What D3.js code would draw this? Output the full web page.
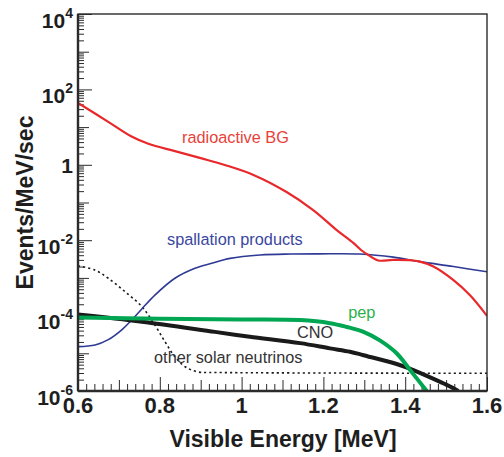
<!DOCTYPE html>
<html>
<head>
<meta charset="utf-8">
<script src="https://cdn.jsdelivr.net/npm/d3@7"></script>
<style>
  body { margin: 0; background: #fff; }
  svg { display: block; }
</style>
</head>
<body>
<svg id="chart" width="504" height="457"></svg>
<script>
// Spectrum components: visible energy (MeV) and rate (events/MeV/sec)
const bgEnergy = [0.6, 0.674, 0.731, 0.772, 0.837, 0.9, 0.959, 1.029, 1.11, 1.175, 1.2325, 1.273, 1.292, 1.309, 1.334, 1.37, 1.41, 1.436, 1.469, 1.518, 1.558, 1.6];
const bgRate   = [44, 13.8, 5.6, 3.6, 2.3, 1.5, 0.99, 0.54, 0.19, 0.063, 0.0186, 0.0085, 0.0055, 0.0041, 0.0029, 0.0030, 0.00295, 0.0027, 0.0020, 0.00087, 0.00035, 0.000098];

const spallEnergy = [0.6, 0.642, 0.674, 0.707, 0.731, 0.756, 0.788, 0.837, 0.886, 0.927, 0.972, 1.045, 1.12, 1.19, 1.289, 1.371, 1.436, 1.518, 1.6];
const spallRate   = [1.5e-5, 1.66e-5, 2.3e-5, 4.2e-5, 7.6e-5, 1.5e-4, 3.5e-4, 9.8e-4, 1.8e-3, 2.45e-3, 3.3e-3, 4.05e-3, 4.3e-3, 4.35e-3, 4.3e-3, 3.55e-3, 2.7e-3, 2.0e-3, 1.45e-3];

const pepEnergy = [0.6, 0.8, 1.0, 1.143, 1.216, 1.257, 1.298, 1.338, 1.379, 1.412, 1.4526];
const pepRate   = [8.9e-5, 8.3e-5, 7.9e-5, 7.6e-5, 6.3e-5, 5.0e-5, 3.7e-5, 2.2e-5, 1.0e-5, 3.6e-6, 1.0e-6];

const cnoEnergy = [0.6, 0.756, 0.935, 1.02, 1.143, 1.216, 1.265, 1.298, 1.379, 1.42, 1.461, 1.5015, 1.53];
const cnoRate   = [1.07e-4, 6.9e-5, 3.7e-5, 2.75e-5, 1.86e-5, 1.35e-5, 1.1e-5, 8.9e-6, 5.2e-6, 3.6e-6, 2.3e-6, 1.45e-6, 1.0e-6];

const otherEnergy = [0.6, 0.642, 0.674, 0.715, 0.756, 0.788, 0.813, 0.837, 0.862, 0.894, 0.935, 1.6];
const otherRate   = [2.1e-3, 1.6e-3, 9.8e-4, 4.3e-4, 1.74e-4, 5.6e-5, 2.0e-5, 8.1e-6, 4.4e-6, 3.2e-6, 3.1e-6, 2.95e-6];

// Axis ticks and labels
const xTickValues = [0.6, 0.8, 1.0, 1.2, 1.4, 1.6];
const xTickLabels = ["0.6", "0.8", "1", "1.2", "1.4", "1.6"];
const yTickValues = [1e4, 1e2, 1, 1e-2, 1e-4, 1e-6];
const yTickBases  = ["10", "10", "1", "10", "10", "10"];
const yTickExps   = ["4", "2", "", "-2", "-4", "-6"];

const plot = { left: 78, right: 487, top: 14, bottom: 391 };
const svg = d3.select("#chart");

const x = d3.scaleLinear().domain([0.6, 1.6]).range([plot.left, plot.right]);
const y = d3.scaleLog().domain([1e-6, 1e4]).range([plot.bottom, plot.top]);

svg.append("defs").append("clipPath").attr("id", "plotClip")
  .append("rect")
  .attr("x", plot.left).attr("y", plot.top)
  .attr("width", plot.right - plot.left).attr("height", plot.bottom - plot.top);

const axisColor = "#2b2b2b";
const labelFont = "'Liberation Sans', Arial, Helvetica, sans-serif";

// ---- ticks on the left (log) axis ----
const minorY = [];
for (let e = -6; e < 4; e++) {
  for (let m = 2; m <= 9; m++) minorY.push(m * Math.pow(10, e));
}
const oddDecades = [1e3, 1e1, 1e-1, 1e-3, 1e-5];

function drawYTicks(values, len) {
  svg.append("g")
    .attr("transform", `translate(${plot.left},0)`)
    .call(d3.axisLeft(y).tickValues(values).tickSize(-len).tickFormat(""))
    .call(g => g.select(".domain").remove())
    .call(g => g.selectAll("line").attr("stroke", axisColor).attr("stroke-width", 1));
}
drawYTicks(minorY, 6);
drawYTicks(oddDecades, 11);
drawYTicks(yTickValues, 14);

// ---- ticks on the bottom axis ----
const minorX = d3.range(0, 51).map(i => 0.6 + i * 0.02).filter(v => Math.abs((v * 10) % 1) > 0.01 && Math.abs((v * 10) % 1) < 0.99);
const halfX = [0.7, 0.9, 1.1, 1.3, 1.5];
function drawXTicks(values, len) {
  svg.append("g")
    .attr("transform", `translate(0,${plot.bottom})`)
    .call(d3.axisBottom(x).tickValues(values).tickSize(-len).tickFormat(""))
    .call(g => g.select(".domain").remove())
    .call(g => g.selectAll("line").attr("stroke", axisColor).attr("stroke-width", 1));
}
drawXTicks(minorX, 7);
drawXTicks(halfX, 11);
drawXTicks(xTickValues, 14);

// ---- curves ----
const line = d3.line()
  .x(d => x(d[0]))
  .y(d => y(d[1]))
  .curve(d3.curveCatmullRom.alpha(0.5));

const curves = svg.append("g").attr("clip-path", "url(#plotClip)");

function drawCurve(energy, rate, color, width, dash) {
  const pts = energy.map((e, i) => [e, rate[i]]);
  const p = curves.append("path")
    .datum(pts)
    .attr("d", line)
    .attr("fill", "none")
    .attr("stroke", color)
    .attr("stroke-width", width)
    .attr("stroke-linejoin", "round");
  if (dash) p.attr("stroke-dasharray", dash);
}

drawCurve(otherEnergy, otherRate, "#1a1a1a", 1.6, "2.2,3");
drawCurve(spallEnergy, spallRate, "#2e3a94", 1.6);
drawCurve(cnoEnergy, cnoRate, "#1a1a1a", 4);
drawCurve(pepEnergy, pepRate, "#00a651", 4);
drawCurve(bgEnergy, bgRate, "#e8282b", 2.2);

// ---- frame ----
svg.append("rect")
  .attr("x", plot.left).attr("y", plot.top)
  .attr("width", plot.right - plot.left).attr("height", plot.bottom - plot.top)
  .attr("fill", "none").attr("stroke", axisColor).attr("stroke-width", 1.4);
svg.append("line")
  .attr("x1", plot.left).attr("x2", plot.left)
  .attr("y1", plot.top).attr("y2", plot.bottom)
  .attr("stroke", axisColor).attr("stroke-width", 2.4);
svg.append("line")
  .attr("x1", plot.left).attr("x2", plot.right)
  .attr("y1", plot.bottom).attr("y2", plot.bottom)
  .attr("stroke", axisColor).attr("stroke-width", 2.4);

// ---- tick labels ----
const yLabels = svg.append("g")
  .attr("font-family", labelFont)
  .attr("font-weight", "bold")
  .attr("fill", "#1e1e1e");
yTickValues.forEach((v, i) => {
  const exp = yTickExps[i];
  const t = yLabels.append("text")
    .attr("x", 73)
    .attr("y", y(v) + (exp ? 13.5 : 8))
    .attr("text-anchor", "end")
    .attr("font-size", 21);
  t.append("tspan").text(yTickBases[i]);
  if (exp) {
    t.append("tspan")
      .attr("font-size", 14)
      .attr("dy", -10)
      .text(exp);
  }
});

svg.append("g")
  .attr("font-family", labelFont)
  .attr("font-weight", "bold")
  .attr("font-size", 22)
  .attr("fill", "#1e1e1e")
  .selectAll("text")
  .data(xTickValues)
  .join("text")
  .attr("x", d => x(d))
  .attr("y", 413)
  .attr("text-anchor", "middle")
  .text((d, i) => xTickLabels[i]);

// ---- axis titles ----
svg.append("text")
  .attr("x", (plot.left + plot.right) / 2 + 0.5)
  .attr("y", 447)
  .attr("text-anchor", "middle")
  .attr("font-family", labelFont)
  .attr("font-weight", "bold")
  .attr("font-size", 23)
  .attr("fill", "#1e1e1e")
  .text("Visible Energy [MeV]");

svg.append("text")
  .attr("transform", `translate(33,${(plot.top + plot.bottom) / 2}) rotate(-90)`)
  .attr("text-anchor", "middle")
  .attr("font-family", labelFont)
  .attr("font-weight", "bold")
  .attr("font-size", 23)
  .attr("fill", "#1e1e1e")
  .text("Events/MeV/sec");

// ---- curve annotations ----
const notes = [
  { text: "radioactive BG", x: 0.8545, y: 143, color: "#e8413a" },
  { text: "spallation products", x: 0.8176, y: 245, color: "#3a47a0" },
  { text: "pep", x: 1.2605, y: 318, color: "#2bb04a" },
  { text: "CNO", x: 1.1355, y: 338, color: "#333333" },
  { text: "other solar neutrinos", x: 0.786, y: 363, color: "#333333" }
];
svg.append("g")
  .attr("font-family", labelFont)
  .attr("font-size", 16.3)
  .selectAll("text")
  .data(notes)
  .join("text")
  .attr("x", d => x(d.x))
  .attr("y", d => d.y)
  .attr("fill", d => d.color)
  .text(d => d.text);
</script>
</body>
</html>
